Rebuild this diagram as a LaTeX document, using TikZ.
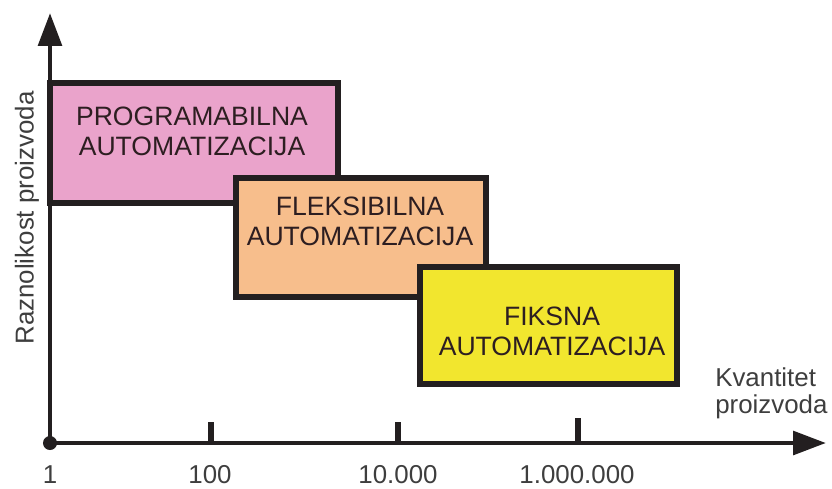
\documentclass[tikz,border=0pt]{standalone}
\usepackage{fontspec}
\setmainfont{Liberation Sans}
\usepackage{xcolor}
\usepackage{tikz}
\usetikzlibrary{arrows.meta}
\definecolor{boxpink}{RGB}{234,163,203}
\definecolor{boxorange}{RGB}{247,190,140}
\definecolor{boxyellow}{RGB}{242,230,46}
\definecolor{boxline}{RGB}{35,31,32}
\definecolor{boxtextcol}{RGB}{45,30,33}
\definecolor{labelgray}{RGB}{62,62,62}
\tikzset{
	auto box/.style={rectangle,draw=boxline,line width=4.2pt,inner sep=0pt},
	box text/.style={align=center,text=boxtextcol,font=\fontsize{18.9}{21.3}\selectfont,anchor=base},
	axis label/.style={text=labelgray,font=\fontsize{18.4}{18.4}\selectfont},
	axis line/.style={draw=boxline,line width=3.5pt},
	tick mark/.style={draw=boxline,line width=3.6pt}
}

\begin{document}
\begin{tikzpicture}[x=0.025cm,y=-0.025cm,>={Triangle[length=0.82cm,width=0.58cm]}]
	\useasboundingbox (0,0) rectangle (832,488);
	% axes
	\node [circle,fill=boxline,minimum size=0.35cm,inner sep=0pt] (origin) at (50,443) {};
	\coordinate (ytip) at (50,13);
	\coordinate (xtip) at (826,443);
	\draw [axis line,->] (origin.center) -- (ytip);
	\draw [axis line,->] (origin.center) -- (xtip);
	\foreach \x/\t in {211/422,398/422,578/418}
		\draw [tick mark] (\x,\t) -- (\x,443);
	% tick labels
	\node [axis label,anchor=base] (t1) at (50,483) {1};
	\node [axis label,anchor=base] (t2) at (210,483) {100};
	\node [axis label,anchor=base] (t3) at (398,483) {10.000};
	\node [axis label,anchor=base] (t4) at (577,483) {1.000.000};
	% axis titles
	\node [axis label,rotate=90] (ylab) at (27,218) {Raznolikost proizvoda};
	\node [axis label,align=left,anchor=base west,inner sep=0pt,font=\fontsize{18.4}{18.7}\selectfont] (xlab) at (715,413) {Kvantitet\\proizvoda};
	% boxes
	\node [auto box,fill=boxpink,minimum width=7.2cm,minimum height=3cm] (prog) at (194,143) {};
	\node [box text] (progtext) at (192,155) {PROGRAMABILNA\\AUTOMATIZACIJA};
	\node [auto box,fill=boxorange,minimum width=6.25cm,minimum height=2.975cm] (flex) at (361,237.5) {};
	\node [box text] (flextext) at (360,245) {FLEKSIBILNA\\AUTOMATIZACIJA};
	\node [auto box,fill=boxyellow,minimum width=6.425cm,minimum height=2.925cm] (fix) at (548.5,325.5) {};
	\node [box text] (fixtext) at (552,355) {FIKSNA\\AUTOMATIZACIJA};
\end{tikzpicture}
\end{document}
